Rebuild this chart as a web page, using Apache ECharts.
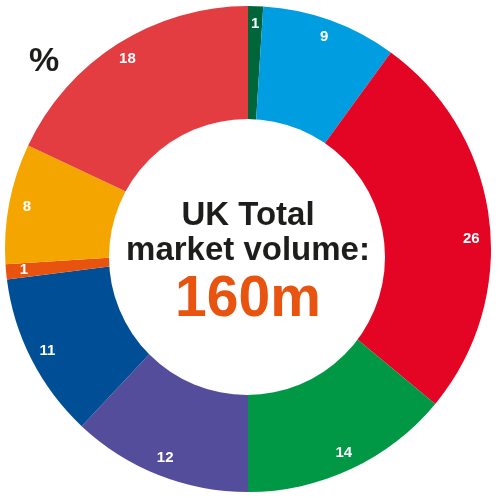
<!DOCTYPE html>
<html>
<head>
<meta charset="utf-8">
<script src="https://cdn.jsdelivr.net/npm/echarts@6/dist/echarts.min.js"></script>
<style>
  html, body { margin: 0; padding: 0; background: #fff; }
  #chart { width: 501px; height: 498px; }
</style>
</head>
<body>
<div id="chart"></div>
<script>
// segments, clockwise from 12 o'clock (share of UK market volume, %)
const segments = ['s1', 's2', 's3', 's4', 's5', 's6', 's7', 's8', 's9'];
const shares = [1, 9, 26, 14, 12, 11, 1, 8, 18];
const colors = ['#00663a', '#009ee0', '#e30523', '#009845', '#534d9b', '#004f96', '#e8540f', '#f5a500', '#e33d41'];

const totalLine1 = 'UK Total';
const totalLine2 = 'market volume:';
const totalValue = '160m';

const font = '"Liberation Sans", Arial, Helvetica, sans-serif';

const data = segments.map((name, i) => ({
  name: name,
  value: shares[i],
  itemStyle: { color: colors[i] }
}));

// the "26" label sits a bit lower than its slice middle in the original
const labelNudge = { s3: [0, 18] };

const chart = echarts.init(document.getElementById('chart'));

const option = {
  animation: false,
  series: [
    {
      type: 'pie',
      center: [248, 249],
      radius: [128, 243],
      startAngle: 90,
      clockwise: true,
      silent: true,
      label: { show: false },
      labelLine: { show: false },
      data: data
    },
    {
      // label ring, drawn near the outer edge
      type: 'pie',
      center: [248, 249],
      radius: [201, 243],
      startAngle: 90,
      clockwise: true,
      silent: true,
      itemStyle: { color: 'rgba(0,0,0,0)' },
      label: {
        show: true,
        position: 'inside',
        formatter: '{c}',
        color: '#fff',
        fontFamily: font,
        fontWeight: 'bold',
        fontSize: 15
      },
      labelLine: { show: false },
      data: segments.map((name, i) => ({
        name: name,
        value: shares[i],
        label: labelNudge[name] ? { offset: labelNudge[name] } : undefined
      }))
    }
  ],
  graphic: [
    {
      type: 'circle',
      z: 100,
      shape: { cx: 247, cy: 257, r: 138 },
      style: { fill: '#fff' }
    },
    {
      type: 'text',
      z: 101,
      x: 248, y: 216,
      style: {
        text: totalLine1, fill: '#1d1d1b', font: 'bold 33px ' + font,
        textAlign: 'center', textVerticalAlign: 'middle'
      }
    },
    {
      type: 'text',
      z: 101,
      x: 248, y: 251,
      style: {
        text: totalLine2, fill: '#1d1d1b', font: 'bold 33px ' + font,
        textAlign: 'center', textVerticalAlign: 'middle'
      }
    },
    {
      type: 'text',
      z: 101,
      x: 248, y: 300,
      style: {
        text: totalValue, fill: '#e8540f', font: 'bold 57px ' + font,
        textAlign: 'center', textVerticalAlign: 'middle'
      }
    },
    {
      type: 'text',
      z: 101,
      x: 44, y: 62,
      style: {
        text: '%', fill: '#1d1d1b', font: 'bold 34px ' + font,
        textAlign: 'center', textVerticalAlign: 'middle'
      }
    }
  ]
};

chart.setOption(option);
</script>
</body>
</html>
